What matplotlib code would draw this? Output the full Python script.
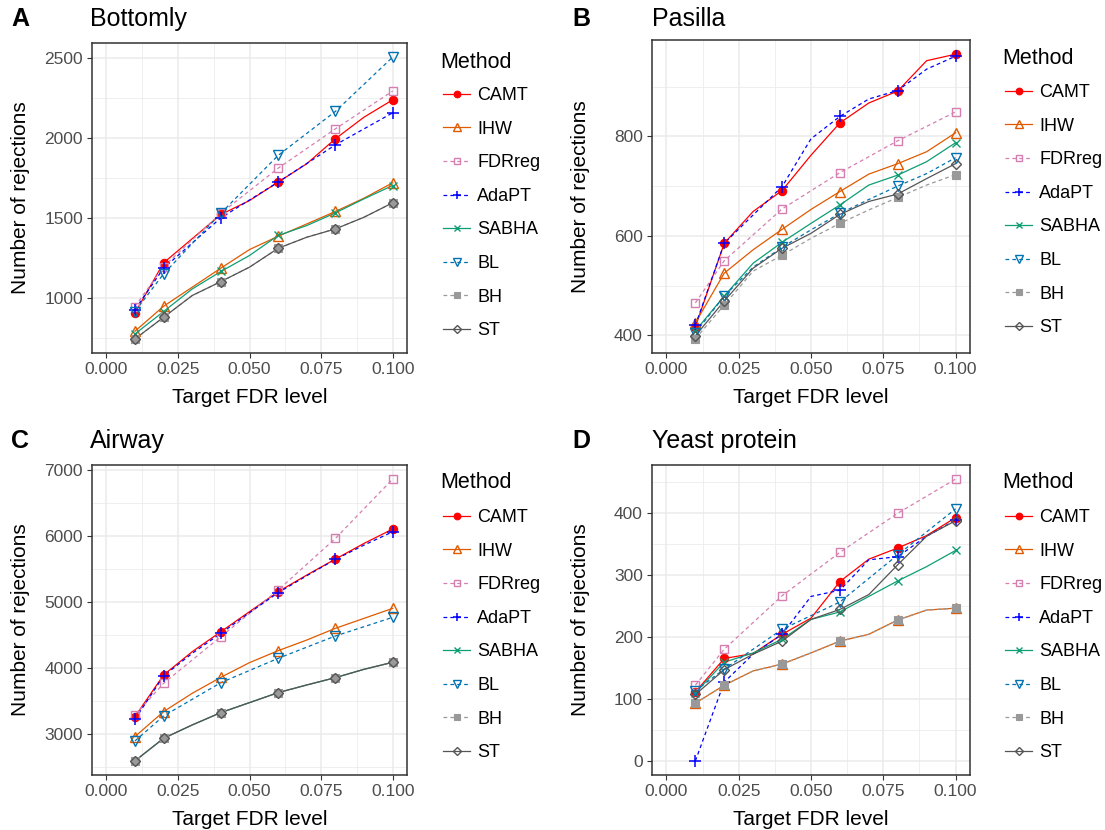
import numpy as np
import matplotlib
matplotlib.use('Agg')
import matplotlib.pyplot as plt
from matplotlib.lines import Line2D
from matplotlib.ticker import MultipleLocator, FormatStrFormatter

plt.rcParams['font.family'] = ['Liberation Sans', 'DejaVu Sans']

N = None
fdr = [0.01, 0.02, 0.03, 0.04, 0.05, 0.06, 0.07, 0.08, 0.09, 0.10]
marker_x = [0.01, 0.02, 0.04, 0.06, 0.08, 0.10]
methods = ['CAMT', 'IHW', 'FDRreg', 'AdaPT', 'SABHA', 'BL', 'BH', 'ST']
panel_tags = ['A', 'B', 'C', 'D']
panel_titles = ['Bottomly', 'Pasilla', 'Airway', 'Yeast protein']

# Bottomly
camt_A = [906, 1219, 1370, 1521, 1608, 1723, 1838, 1994, 2129, 2237]
ihw_A = [792, 948, 1067, 1186, 1302, 1385, 1462, 1540, 1623, 1719]
fdrreg_A = [946, 1196, N, 1529, N, 1810, N, 2056, N, 2292]
adapt_A = [927, 1186, N, 1500, N, 1723, N, 1956, N, 2156]
sabha_A = [775, 915, 1056, 1165, 1265, 1390, 1452, 1531, 1619, 1702]
bl_A = [915, 1150, N, 1529, N, 1890, N, 2165, N, 2504]
bh_A = [744, 879, 1015, 1102, 1192, 1310, 1379, 1431, 1504, 1594]
st_A = [744, 879, 1015, 1102, 1192, 1310, 1379, 1431, 1504, 1594]

# Pasilla
camt_B = [417, 585, 649, 691, 762, 827, 867, 891, 952, 965]
ihw_B = [425, 525, 572, 613, 653, 689, 724, 745, 769, 807]
fdrreg_B = [465, 550, N, 654, N, 727, N, 791, N, 849]
adapt_B = [420, 585, 642, 699, 795, 840, 875, 892, 935, 961]
sabha_B = [409, 479, 545, 587, 625, 662, 702, 722, 749, 787]
bl_B = [405, 479, 537, 577, 612, 645, 673, 700, 725, 757]
bh_B = [393, 461, 529, 561, 595, 625, 652, 677, 702, 723]
st_B = [399, 469, 535, 575, 605, 643, 669, 684, 715, 745]

# Airway
camt_C = [3262, 3892, 4245, 4547, 4850, 5152, 5404, 5646, 5883, 6100]
ihw_C = [2960, 3338, 3615, 3857, 4079, 4260, 4421, 4598, 4749, 4900]
fdrreg_C = [3287, 3766, N, 4472, N, 5177, N, 5958, N, 6856]
adapt_C = [3222, 3877, 4220, 4522, 4835, 5137, 5394, 5641, 5858, 6059]
sabha_C = [2592, 2934, 3136, 3323, 3474, 3625, 3741, 3852, 3978, 4084]
bl_C = [2894, 3272, N, 3776, N, 4144, N, 4482, N, 4764]
bh_C = [2592, 2934, 3136, 3323, 3474, 3625, 3741, 3852, 3978, 4084]
st_C = [2592, 2934, 3136, 3323, 3474, 3625, 3741, 3852, 3978, 4084]

# Yeast protein
camt_D = [111, 165, 173, 204, 230, 289, 325, 343, 363, 392]
ihw_D = [93, 122, 145, 156, 174, 193, 204, 227, 243, 246]
fdrreg_D = [122, 180, N, 266, N, 336, N, 399, N, 454]
adapt_D = [0, 127, 172, 204, 265, 275, 324, 329, 362, 388]
sabha_D = [110, 159, 174, 196, 228, 240, 265, 290, 313, 339]
bl_D = [113, 148, N, 212, N, 256, N, 332, N, 406]
bh_D = [93, 122, 145, 156, 174, 193, 204, 227, 243, 246]
st_D = [107, 147, 172, 193, 228, 244, 268, 316, 362, 387]

panel_data = [
    [camt_A, ihw_A, fdrreg_A, adapt_A, sabha_A, bl_A, bh_A, st_A],
    [camt_B, ihw_B, fdrreg_B, adapt_B, sabha_B, bl_B, bh_B, st_B],
    [camt_C, ihw_C, fdrreg_C, adapt_C, sabha_C, bl_C, bh_C, st_C],
    [camt_D, ihw_D, fdrreg_D, adapt_D, sabha_D, bl_D, bh_D, st_D],
]

styles = {
    'CAMT':   dict(color='#FF0000', ls='-',  marker='o', mfc='#FF0000', ms=6.0, mew=0.8),
    'IHW':    dict(color='#E05A00', ls='-',  marker='^', mfc='none', ms=7.0, mew=1.0),
    'FDRreg': dict(color='#D47FB0', ls=(0, (3, 2.5)), marker='s', mfc='none', ms=5.5, mew=1.0),
    'AdaPT':  dict(color='#0000FF', ls=(0, (3, 2.5)), marker='+', mfc='none', ms=8.0, mew=1.1),
    'SABHA':  dict(color='#0E9E74', ls='-',  marker='x', mfc='none', ms=6.0, mew=1.0),
    'BL':     dict(color='#0072B2', ls=(0, (3, 2.5)), marker='v', mfc='none', ms=7.0, mew=1.0),
    'BH':     dict(color='#999999', ls=(0, (3, 2.5)), marker='s', mfc='#999999', ms=5.5, mew=0.8),
    'ST':     dict(color='#555555', ls='-',  marker='D', mfc='none', ms=5.5, mew=1.0),
}

y_major = [500, 200, 1000, 100]
y_minor = [250, 100, 500, 50]

W, H = 1105, 830
fig = plt.figure(figsize=(W / 100, H / 100), dpi=100)

# axes boxes in pixels: left, top, right, bottom
boxes = [(92, 43, 407, 353), (652, 40, 970, 353), (92, 465, 407, 775), (652, 465, 970, 775)]
tag_x = [11, 572, 11, 572]
title_x = [90, 652, 90, 652]
title_base = [26, 26, 448, 448]
ylab_x = [20, 580, 20, 580]
leg_x = [440, 1002, 440, 1002]
leg_title_y = [62, 58, 482, 482]
leg_first_y = [93, 90, 515, 515]

for i, (l, t, r, b) in enumerate(boxes):
    ax = fig.add_axes([l / W, 1 - b / H, (r - l) / W, (b - t) / H])
    ax.set_facecolor('white')
    ax.set_axisbelow(True)
    handles = []
    for m, vals in zip(methods, panel_data[i]):
        st = styles[m]
        xs = np.array([x for x, v in zip(fdr, vals) if v is not None])
        ys = np.array([v for v in vals if v is not None], dtype=float)
        ax.plot(xs, ys, color=st['color'], ls=st['ls'], lw=0.9, zorder=3)
        mk = np.isin(np.round(xs, 3), np.round(marker_x, 3))
        ax.plot(xs[mk], ys[mk], ls='none', marker=st['marker'], mfc=st['mfc'],
                mec=st['color'], ms=st['ms'], mew=st['mew'], zorder=4)
        handles.append(Line2D([0], [0], color=st['color'], ls=st['ls'], lw=0.9,
                              marker=st['marker'], mfc=st['mfc'], mec=st['color'],
                              ms=st['ms'] * 0.8, mew=st['mew']))
    ax.set_xlim(-0.005, 0.105)
    ax.margins(y=0.05)
    ax.xaxis.set_major_locator(MultipleLocator(0.025))
    ax.xaxis.set_minor_locator(MultipleLocator(0.0125))
    ax.xaxis.set_major_formatter(FormatStrFormatter('%.3f'))
    ax.yaxis.set_major_locator(MultipleLocator(y_major[i]))
    ax.yaxis.set_minor_locator(MultipleLocator(y_minor[i]))
    ax.grid(which='major', color='#EBEBEB', lw=1.1)
    ax.grid(which='minor', color='#EBEBEB', lw=0.55)
    ax.tick_params(which='minor', length=0)
    ax.tick_params(which='major', length=3.5, width=0.8, color='#333333',
                   labelcolor='#4D4D4D', labelsize=12.5, pad=3)
    for sp in ax.spines.values():
        sp.set_color('#333333')
        sp.set_linewidth(1.1)

    fig.text(tag_x[i] / W, 1 - title_base[i] / H, panel_tags[i], fontsize=18,
             fontweight='bold', va='baseline', ha='left')
    fig.text(title_x[i] / W, 1 - title_base[i] / H, panel_titles[i], fontsize=18,
             va='baseline', ha='left')
    fig.text(ylab_x[i] / W, 1 - (t + b) / 2 / H, 'Number of rejections', fontsize=15,
             rotation=90, va='center', ha='center')
    fig.text((l + r) / 2 / W, 1 - (b + 50) / H, 'Target FDR level', fontsize=15,
             va='baseline', ha='center')
    fig.text(leg_x[i] / W, 1 - leg_title_y[i] / H, 'Method', fontsize=15.5,
             va='center', ha='left')

    leg = ax.legend(handles, methods, loc='upper left',
                    bbox_to_anchor=((leg_x[i] + 3) / W, 1 - (leg_first_y[i] - 6) / H),
                    bbox_transform=fig.transFigure, frameon=False,
                    fontsize=13, handlelength=1.5, handletextpad=0.4,
                    labelspacing=0.92, borderaxespad=0, borderpad=0)

fig.savefig('out.png', dpi=100, facecolor='white')
